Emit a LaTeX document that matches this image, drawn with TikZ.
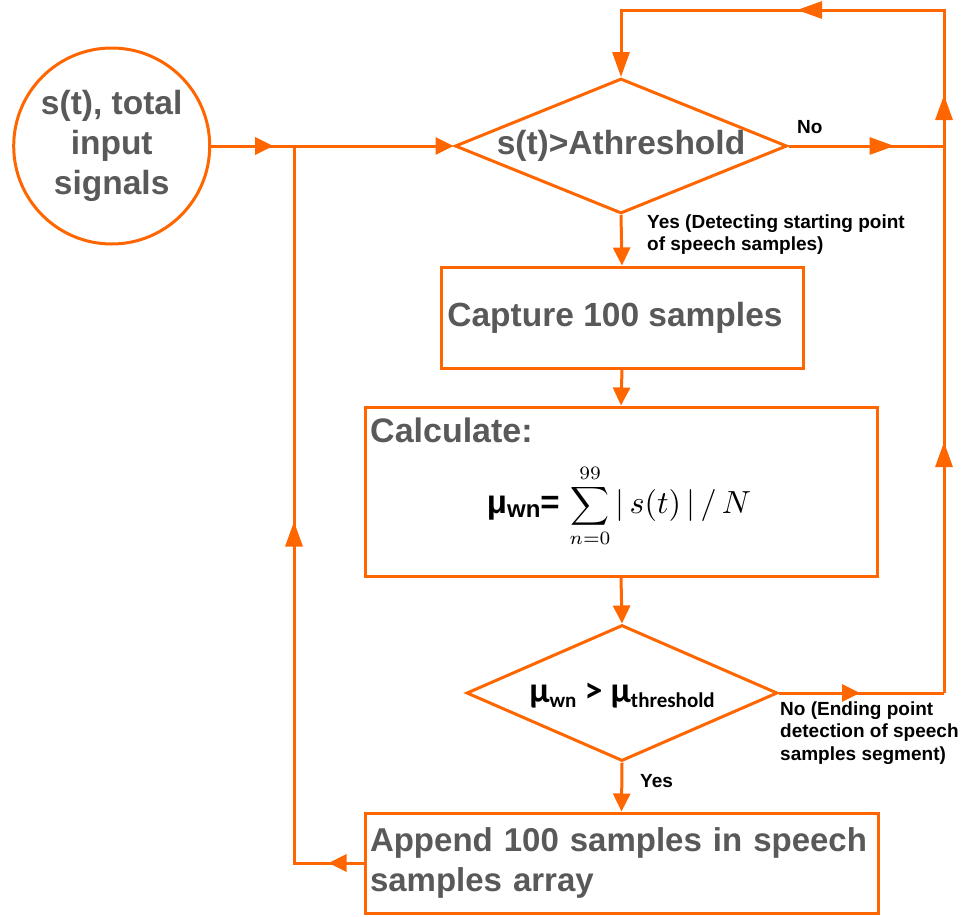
\documentclass[tikz,border=0pt]{standalone}
\usepackage[no-math]{fontspec}
\usepackage{graphicx}
\setmainfont{Liberation Sans}
\newfontfamily\carlito{Carlito}
\usetikzlibrary{arrows.meta,shapes.geometric,decorations.markings}

\definecolor{flow}{RGB}{255,102,0}
\definecolor{ink}{RGB}{89,89,89}

\tikzset{
  flowline/.style={draw=flow, line width=3pt},
  arr/.style={flowline, -{Triangle[length=18pt,width=17pt]}},
  arrlong/.style={flowline, -{Triangle[length=25pt,width=17pt]}},
  midtip/.style={postaction={decorate, decoration={markings,
      mark=at position #1 with {\arrow[flow]{Triangle[length=18pt,width=17pt]}}}}},
  midtiplong/.style={postaction={decorate, decoration={markings,
      mark=at position #1 with {\arrow[flow]{Triangle[length=25pt,width=17pt]}}}}},
  bigtext/.style={text=ink, font=\fontsize{33.5}{40}\selectfont\bfseries},
  smalltext/.style={text=black, font=\fontsize{19}{22.5}\selectfont\bfseries,
      align=left, inner sep=0pt},
  stepbox/.style={flowline, rectangle, inner sep=0pt},
  decision/.style={flowline, diamond, inner sep=0pt},
}

\begin{document}
\begin{tikzpicture}[x=1pt,y=-1pt]
\useasboundingbox (0,0) rectangle (963,916);

% start node
\node[flowline, circle, minimum size=196pt, inner sep=0pt, bigtext, align=center]
  (src) at (111.7,146) {\raisebox{-3pt}{s(t), total}\\\raisebox{-3pt}{input}\\\raisebox{-3pt}{signals}};

% first decision
\node[decision, minimum width=332pt, minimum height=135pt,
  label={[bigtext]center:s(t)>Athreshold}] (d1) at (621,146) {};

% capture box
\node[stepbox, minimum width=362pt, minimum height=101pt]
  (b1) at (622,317.5) {};
\node[bigtext, inner sep=0pt] (b1text) at (615,317.5) {Capture 100 samples};

% calculation box
\node[stepbox, minimum width=512pt, minimum height=169pt]
  (b2) at (621,491.5) {};
\node[anchor=base west, inner sep=0pt, text=ink, font=\fontsize{34}{40}\selectfont\bfseries]
  (calc) at (370,442) {Calculate:};
\node[anchor=base, inner sep=0pt] (formula) at (619,513)
  {\bfseries\fontsize{33}{33}\selectfont μ\raisebox{-4pt}{\fontsize{24}{24}\selectfont wn}=\hspace{10pt}%
   \scalebox{2.7}{\normalfont\normalsize$\displaystyle\sum_{n=0}^{99}$}\hspace{5pt}%
   \scalebox{3.2}{\normalfont\normalsize$|\,s(t)\,|\,/\,N$}};

% second decision
\node[decision, minimum width=311pt, minimum height=136pt,
  label={[text=black, font=\carlito\bfseries\fontsize{36}{36}\selectfont, yshift=-3pt]center:%
   μ\raisebox{-5pt}{\fontsize{21}{21}\selectfont wn} > μ\raisebox{-5pt}{\fontsize{21}{21}\selectfont threshold}}]
  (d2) at (622,693) {};

% append box
\node[stepbox, minimum width=513pt, minimum height=100pt, text width=508pt,
  inner xsep=2.5pt, align=left, bigtext, font=\fontsize{33}{40}\selectfont\bfseries]
  (b3) at (621.5,863)
  {\hspace{2.5pt}Append 100 samples in speech\\\hspace{2.5pt}samples array};

% routing points
\coordinate (j1) at (294,146);
\coordinate (r1) at (944,146);
\coordinate (r2) at (944,693);
\coordinate (tr) at (944,10);
\coordinate (tl) at (d1.north |- tr);
\coordinate (bl) at (j1 |- b3.west);

% connectors
\draw[flowline, midtip=62pt] (src.east) -- (j1);
\draw[arr] (j1) -- (d1.west);
\draw[flowline, midtiplong=106pt] (d1.east) -- (r1);
\draw[arr] (d1.south) -- (b1.north);
\draw[arr] (b1.south) -- (b2.north);
\draw[arr] (b2.south) -- (d2.north);
\draw[arr] (d2.south) -- (b3.north);
\draw[flowline, midtip=81pt] (d2.east) -- (r2);
\draw[flowline, midtiplong=251pt] (r2) -- (r1);
\draw[arrlong, midtiplong=51pt, midtiplong=283pt] (r1) -- (tr) -- (tl) -- (d1.north);
\draw[flowline, midtip=35pt, midtiplong=411pt] (b3.west) -- (bl) -- (j1);

% branch labels (base anchor sits on the last line)
\node[smalltext, anchor=base west] (no1) at (797,133) {No};
\node[smalltext, anchor=base west] (yes1) at (647,250.5)
  {Yes (Detecting starting point\\of speech samples)};
\node[smalltext, anchor=base west] (yes2) at (640,787) {Yes};
\node[smalltext, anchor=base west] (no2) at (780,760)
  {No (Ending point\\detection of speech\\samples segment)};
\end{tikzpicture}
\end{document}
